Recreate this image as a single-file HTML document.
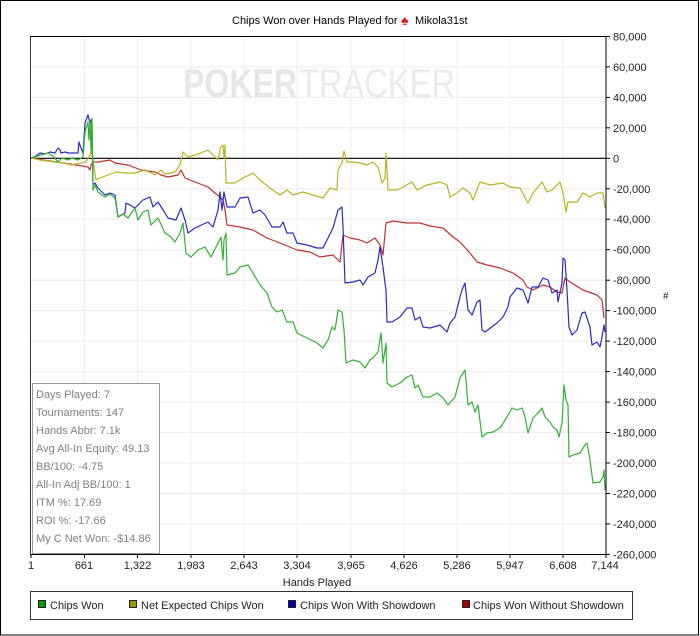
<!DOCTYPE html>
<html>
<head>
<meta charset="utf-8">
<style>
html,body{margin:0;padding:0;background:#fff;}
svg{display:block;}
text{font-family:"Liberation Sans",Arial,sans-serif;}
</style>
</head>
<body>
<svg width="700" height="636" viewBox="0 0 700 636" xmlns="http://www.w3.org/2000/svg">
<rect x="0" y="0" width="700" height="636" fill="#fff"/>
<rect x="0.5" y="0.5" width="698" height="634.5" fill="none" stroke="#000" stroke-width="1"/>

<!-- Title -->
<text x="232" y="24" font-size="11" fill="#000">Chips Won over Hands Played for</text>
<text x="401" y="25" font-size="14" fill="#e02020" font-family="DejaVu Sans, sans-serif">♠</text>
<text x="415" y="24" font-size="11" fill="#000">Mikola31st</text>

<!-- Watermark -->
<text x="183" y="97" font-size="40" font-weight="bold" fill="#e6e6e6" textLength="114" lengthAdjust="spacingAndGlyphs">POKER</text>
<text x="299" y="97" font-size="40" fill="#ebebeb" textLength="156" lengthAdjust="spacingAndGlyphs">TRACKER</text>

<!-- Gridlines -->
<g stroke="#ececec" stroke-width="1">
<line x1="84.5" y1="36" x2="84.5" y2="554"/>
<line x1="137.5" y1="36" x2="137.5" y2="554"/>
<line x1="191" y1="36" x2="191" y2="554"/>
<line x1="244" y1="36" x2="244" y2="554"/>
<line x1="297" y1="36" x2="297" y2="554"/>
<line x1="351" y1="36" x2="351" y2="554"/>
<line x1="404" y1="36" x2="404" y2="554"/>
<line x1="457" y1="36" x2="457" y2="554"/>
<line x1="510" y1="36" x2="510" y2="554"/>
<line x1="563" y1="36" x2="563" y2="554"/>
<line x1="31" y1="66.9" x2="606" y2="66.9"/>
<line x1="31" y1="97.4" x2="606" y2="97.4"/>
<line x1="31" y1="127.8" x2="606" y2="127.8"/>
<line x1="31" y1="188.8" x2="606" y2="188.8"/>
<line x1="31" y1="219.2" x2="606" y2="219.2"/>
<line x1="31" y1="249.7" x2="606" y2="249.7"/>
<line x1="31" y1="280.2" x2="606" y2="280.2"/>
<line x1="31" y1="310.6" x2="606" y2="310.6"/>
<line x1="31" y1="341.1" x2="606" y2="341.1"/>
<line x1="31" y1="371.6" x2="606" y2="371.6"/>
<line x1="31" y1="402.1" x2="606" y2="402.1"/>
<line x1="31" y1="432.5" x2="606" y2="432.5"/>
<line x1="31" y1="463" x2="606" y2="463"/>
<line x1="31" y1="493.5" x2="606" y2="493.5"/>
<line x1="31" y1="523.9" x2="606" y2="523.9"/>
</g>

<!-- Plot borders -->
<line x1="30.5" y1="36" x2="30.5" y2="554" stroke="#333" stroke-width="1"/>
<line x1="30" y1="36.5" x2="606" y2="36.5" stroke="#000" stroke-width="1"/>
<line x1="31" y1="158.3" x2="606" y2="158.3" stroke="#000" stroke-width="1.2"/>

<!-- Series -->
<g fill="none" stroke-width="1.2" stroke-linejoin="round">
<polyline stroke="#c03030" points="31,158 50,161 70,164 88,167 90,170 91,165 93,162 98,162 110,160 115,163 128,165 141,170 155,172 161,175 168,177 178,175 181,170 185,178 195,182 208,187 215,193 220,197 223,200 225,210 227,225 240,227 253,230 267,238 280,243 297,250 310,252 320,257 333,255 340,262 343,235 350,238 360,240 367,243 375,238 380,245 383,255 386,223 393,221 407,223 420,223 430,226 443,228 453,237 460,242 470,253 477,262 487,265 500,268 513,273 523,280 527,287 533,290 543,285 550,287 557,292 562,293 565,278 570,282 583,290 597,295 602,300 604,318"/>
<polyline stroke="#b8b422" points="31,158 40,160 55,162 65,163 71,165 81,163 86,162 90,155 91,150 93,160 96,180 100,178 108,175 116,172 125,173 135,173 145,170 155,175 161,170 165,174 175,172 180,165 183,152 188,157 195,155 201,153 208,150 213,155 218,160 220,150 221,147 223,145 224,158 225,145 226,183 235,183 243,178 253,173 260,180 270,188 280,195 287,190 293,195 303,192 313,195 323,198 330,188 337,190 338,170 342,163 344,151 347,162 353,162 360,163 367,165 373,162 378,167 382,183 385,178 386,153 388,190 397,190 403,187 412,182 417,190 427,185 440,182 447,185 450,197 457,193 463,188 470,193 473,200 480,182 490,185 503,183 510,187 520,188 528,203 533,193 542,182 547,192 552,190 557,185 560,182 563,193 566,212 568,202 577,202 583,193 590,197 597,193 603,193 605,208"/>
<polyline stroke="#2a2ac0" points="31,158 36,156 40,153 45,154 50,152 55,153 58,148 60,150 61,153 65,152 68,153 78,153 79,142 81,148 83,153 85,123 88,115 90,123 91,120 92,130 93,185 95,183 98,188 105,195 110,193 115,195 118,217 125,213 126,203 130,205 135,208 143,200 150,197 153,207 158,202 165,213 168,218 176,220 181,208 185,220 188,233 195,228 208,222 213,227 218,210 220,192 222,210 224,192 227,207 235,207 240,198 248,197 253,213 260,210 265,215 272,227 280,227 283,222 287,233 293,233 297,243 307,245 317,248 323,248 328,238 333,228 338,210 342,207 343,227 345,283 353,282 360,280 363,285 368,277 375,273 378,260 380,247 383,267 385,283 386,290 387,322 392,322 400,317 407,308 412,308 415,320 420,317 423,327 430,328 440,325 447,332 450,323 455,317 460,297 462,290 465,283 468,310 472,315 477,302 480,300 482,330 485,332 497,323 503,317 508,307 510,297 517,288 523,290 528,303 532,287 538,287 543,278 548,280 552,293 557,290 558,302 562,283 563,258 565,260 567,290 569,327 572,335 577,330 582,313 585,312 590,327 592,345 597,342 600,347 602,337 604,325 605,332"/>
<polyline stroke="#33b033" points="31,158 41,155 48,153 53,156 58,162 62,158 68,160 72,158 78,160 83,157 85,132 88,122 89,140 90,120 91,150 92,118 93,190 95,185 98,192 105,197 110,194 115,198 118,217 123,214 128,218 135,208 138,220 143,212 148,210 151,225 158,218 165,233 171,237 175,242 180,233 183,223 186,253 191,257 198,250 205,247 211,257 218,243 221,237 223,260 224,240 226,233 227,275 235,273 240,267 248,265 253,273 260,285 267,293 272,307 277,312 282,310 287,322 293,322 297,333 307,338 317,343 323,348 328,340 332,327 335,330 338,310 342,312 344,330 346,363 353,360 360,362 365,368 370,360 373,358 378,352 381,333 383,363 386,343 387,383 392,387 400,383 407,377 412,375 415,388 418,385 423,397 430,397 437,393 443,398 448,405 455,397 460,378 465,370 466,380 468,405 472,402 475,412 478,405 482,437 487,433 493,432 500,428 507,417 512,408 517,410 522,408 525,417 528,433 533,418 538,413 542,408 545,417 550,422 553,427 557,430 559,437 562,423 564,385 566,400 568,405 569,457 573,455 580,453 585,445 587,443 590,460 593,483 600,482 603,477 604,470 605,490"/>
</g>

<!-- Right axis -->
<line x1="606" y1="36" x2="606" y2="555" stroke="#000" stroke-width="1"/>
<g stroke="#000" stroke-width="1">
<line x1="606" y1="36.4" x2="610" y2="36.4"/>
<line x1="606" y1="66.9" x2="610" y2="66.9"/>
<line x1="606" y1="97.4" x2="610" y2="97.4"/>
<line x1="606" y1="127.8" x2="610" y2="127.8"/>
<line x1="606" y1="158.3" x2="610" y2="158.3"/>
<line x1="606" y1="188.8" x2="610" y2="188.8"/>
<line x1="606" y1="219.2" x2="610" y2="219.2"/>
<line x1="606" y1="249.7" x2="610" y2="249.7"/>
<line x1="606" y1="280.2" x2="610" y2="280.2"/>
<line x1="606" y1="310.6" x2="610" y2="310.6"/>
<line x1="606" y1="341.1" x2="610" y2="341.1"/>
<line x1="606" y1="371.6" x2="610" y2="371.6"/>
<line x1="606" y1="402.1" x2="610" y2="402.1"/>
<line x1="606" y1="432.5" x2="610" y2="432.5"/>
<line x1="606" y1="463" x2="610" y2="463"/>
<line x1="606" y1="493.5" x2="610" y2="493.5"/>
<line x1="606" y1="523.9" x2="610" y2="523.9"/>
<line x1="606" y1="554.4" x2="610" y2="554.4"/>
</g>
<g font-size="11" fill="#222">
<text x="613" y="40.4">80,000</text>
<text x="613" y="70.9">60,000</text>
<text x="613" y="101.4">40,000</text>
<text x="613" y="131.8">20,000</text>
<text x="613" y="162.3">0</text>
<text x="613" y="192.8">-20,000</text>
<text x="613" y="223.2">-40,000</text>
<text x="613" y="253.7">-60,000</text>
<text x="613" y="284.2">-80,000</text>
<text x="613" y="314.6">-100,000</text>
<text x="613" y="345.1">-120,000</text>
<text x="613" y="375.6">-140,000</text>
<text x="613" y="406.1">-160,000</text>
<text x="613" y="436.5">-180,000</text>
<text x="613" y="467">-200,000</text>
<text x="613" y="497.5">-220,000</text>
<text x="613" y="527.9">-240,000</text>
<text x="613" y="558.4">-260,000</text>
</g>
<text x="663" y="299" font-size="10" fill="#222">#</text>

<!-- Stats box -->
<rect x="32.5" y="383.5" width="127" height="170" fill="#fff" stroke="#999" stroke-width="1"/>
<g font-size="11" fill="#808080">
<text x="36" y="398">Days Played: 7</text>
<text x="36" y="416">Tournaments: 147</text>
<text x="36" y="434">Hands Abbr: 7.1k</text>
<text x="36" y="452">Avg All-In Equity: 49.13</text>
<text x="36" y="470">BB/100: -4.75</text>
<text x="36" y="488">All-In Adj BB/100: 1</text>
<text x="36" y="506">ITM %: 17.69</text>
<text x="36" y="524">ROI %: -17.66</text>
<text x="36" y="542">My C Net Won: -$14.86</text>
</g>

<!-- Bottom axis -->
<line x1="30" y1="554.5" x2="606" y2="554.5" stroke="#000" stroke-width="1"/>
<g stroke="#000" stroke-width="1">
<line x1="31" y1="554" x2="31" y2="558"/>
<line x1="84.5" y1="554" x2="84.5" y2="558"/>
<line x1="137.5" y1="554" x2="137.5" y2="558"/>
<line x1="191" y1="554" x2="191" y2="558"/>
<line x1="244" y1="554" x2="244" y2="558"/>
<line x1="297" y1="554" x2="297" y2="558"/>
<line x1="351" y1="554" x2="351" y2="558"/>
<line x1="404" y1="554" x2="404" y2="558"/>
<line x1="457" y1="554" x2="457" y2="558"/>
<line x1="510" y1="554" x2="510" y2="558"/>
<line x1="563" y1="554" x2="563" y2="558"/>
<line x1="606" y1="554" x2="606" y2="558"/>
</g>
<g font-size="11" fill="#222" text-anchor="middle">
<text x="31" y="569">1</text>
<text x="84" y="569">661</text>
<text x="137.5" y="569">1,322</text>
<text x="191" y="569">1,983</text>
<text x="244" y="569">2,643</text>
<text x="297" y="569">3,304</text>
<text x="351" y="569">3,965</text>
<text x="404" y="569">4,626</text>
<text x="457" y="569">5,286</text>
<text x="510" y="569">5,947</text>
<text x="563" y="569">6,608</text>
<text x="605" y="569">7,144</text>
<text x="317" y="586">Hands Played</text>
</g>

<!-- Legend -->
<rect x="30.5" y="591.5" width="602" height="28" fill="#fff" stroke="#333" stroke-width="1"/>
<rect x="38.5" y="600.5" width="7" height="7" fill="#009900" stroke="#222" stroke-width="1"/>
<text x="50" y="609" font-size="11" fill="#222">Chips Won</text>
<rect x="129.5" y="600.5" width="7" height="7" fill="#999900" stroke="#222" stroke-width="1"/>
<text x="141" y="609" font-size="11" fill="#222">Net Expected Chips Won</text>
<rect x="288.5" y="600.5" width="7" height="7" fill="#0000aa" stroke="#222" stroke-width="1"/>
<text x="300" y="609" font-size="11" fill="#222">Chips Won With Showdown</text>
<rect x="462.5" y="600.5" width="7" height="7" fill="#aa0000" stroke="#222" stroke-width="1"/>
<text x="473" y="609" font-size="11" fill="#222">Chips Won Without Showdown</text>
</svg>
</body>
</html>
